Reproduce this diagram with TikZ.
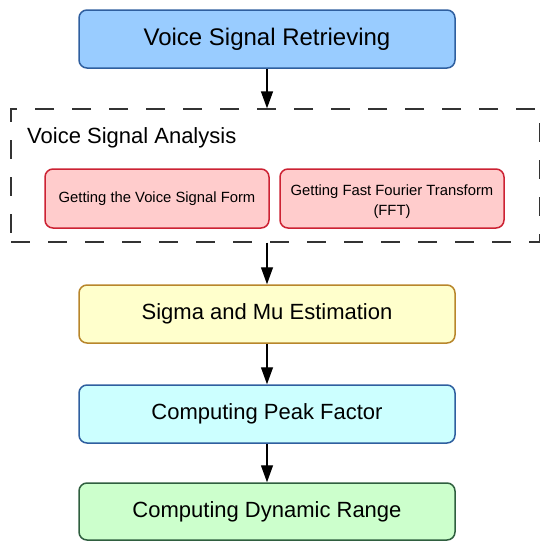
\documentclass[tikz,border=0pt]{standalone}
\usepackage{fontspec}
\setmainfont{Liberation Sans}
\usetikzlibrary{arrows.meta}
\definecolor{bluefill}{HTML}{99CCFF}
\definecolor{blueline}{HTML}{2F5F9F}
\definecolor{redfill}{HTML}{FFCCCC}
\definecolor{redline}{HTML}{CC2233}
\definecolor{yelfill}{HTML}{FFFFCC}
\definecolor{yelline}{HTML}{B8862B}
\definecolor{cyanfill}{HTML}{CCFFFF}
\definecolor{cyanline}{HTML}{2F5F9F}
\definecolor{grnfill}{HTML}{CCFFCC}
\definecolor{grnline}{HTML}{2F5F3F}
\tikzset{
  mainbox/.style={rectangle, rounded corners=8pt, minimum width=376pt, minimum height=58pt,
    line width=1.5pt, inner sep=0pt, font=\fontsize{22}{26}\selectfont},
  subbox/.style={rectangle, rounded corners=8pt, minimum width=224pt, minimum height=59pt,
    line width=1.5pt, inner sep=0pt, draw=redline, fill=redfill, align=center,
    font=\fontsize{14.8}{20}\selectfont},
  subtext/.style={inner sep=0pt, align=center, font=\fontsize{14.8}{20}\selectfont},
  groupbox/.style={rectangle, draw=black!80, line width=1.3pt, dash pattern=on 19pt off 18pt,
    minimum width=528.5pt, minimum height=133pt, inner sep=0pt},
  conn/.style={line width=1.3pt, -{Triangle[length=17pt,width=12pt]}},
}
\begin{document}
\begin{tikzpicture}[x=1pt,y=-1pt]
\useasboundingbox (0,0) rectangle (539,541);
\node[groupbox] (grp) at (275.25,175.5) {};
\node[anchor=base west, inner sep=0pt, font=\fontsize{22}{26}\selectfont] (grptitle) at (27,143) {Voice Signal Analysis};
\node[mainbox, draw=blueline, fill=bluefill, font=\fontsize{24}{28}\selectfont] (ret) at (267,39) {Voice Signal Retrieving};
\node[subbox] (form) at (157,198.5) {\raisebox{-1.5pt}{Getting the Voice Signal Form}};
\node[subbox] (fft) at (392,198.5) {};
\node[subtext, yshift=-3pt] (ffttext) at (fft.center) {Getting Fast Fourier Transform\\(FFT)};
\node[mainbox, draw=yelline, fill=yelfill] (sigma) at (267,314) {Sigma and Mu Estimation};
\node[mainbox, draw=cyanline, fill=cyanfill] (peak) at (267,414) {Computing Peak Factor};
\node[mainbox, draw=grnline, fill=grnfill, minimum height=57pt] (dyn) at (267,511.5) {Computing Dynamic Range};
\draw[conn] (ret.south) -- (ret.south |- grp.north);
\draw[conn] (sigma.north |- grp.south) -- (sigma.north);
\draw[conn] (sigma.south) -- (peak.north);
\draw[conn] (peak.south) -- (dyn.north);
\end{tikzpicture}
\end{document}
